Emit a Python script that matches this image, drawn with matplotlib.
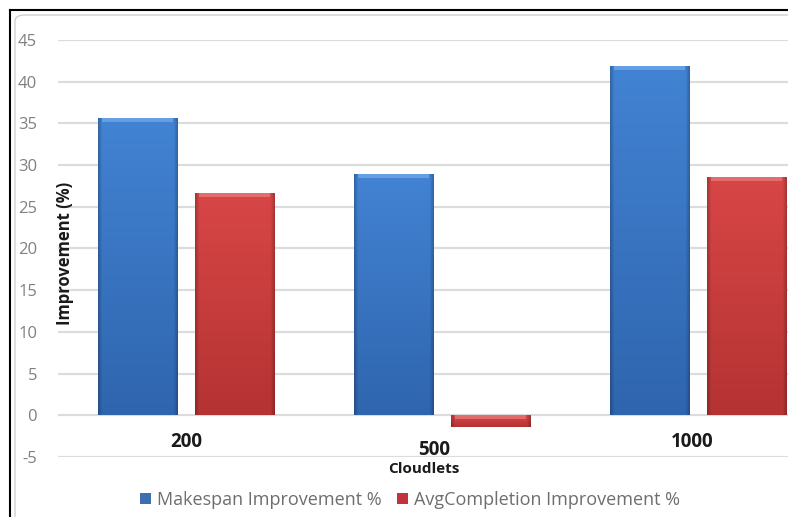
import numpy as np
import matplotlib
matplotlib.use("Agg")
import matplotlib.pyplot as plt
from matplotlib.patches import Patch, FancyBboxPatch
from matplotlib.lines import Line2D
from matplotlib.colors import to_rgb

# Data
categories = ["200", "500", "1000"]
makespan_improvement = [35.6, 28.9, 41.9]
avgcompletion_improvement = [26.6, -1.4, 28.6]
series_names = ["Makespan Improvement %", "AvgCompletion Improvement %"]
y_ticks = [-5, 0, 5, 10, 15, 20, 25, 30, 35, 40, 45]

W, H = 788, 517
DPI = 100
fig = plt.figure(figsize=(W / DPI, H / DPI), dpi=DPI)
fig.patch.set_facecolor("white")

FONT = ["Open Sans", "DejaVu Sans"]


def px(x0, y0, x1, y1):
    """Figure-fraction rectangle from pixel edges (origin top-left)."""
    return [x0 / W, 1 - y1 / H, (x1 - x0) / W, (y1 - y0) / H]


ax = fig.add_axes(px(58, 40, 826, 457))
ax.set_xlim(-0.5, 2.5)
ax.set_ylim(-5, 45)
for s in ax.spines.values():
    s.set_visible(False)
ax.set_yticks(y_ticks)
ax.set_yticklabels([str(t) for t in y_ticks], fontfamily=FONT, fontsize=12,
                   color="#808080")
ax.tick_params(axis="y", length=0, pad=15)
ax.tick_params(axis="x", length=0, labelbottom=False)
ax.grid(axis="y", color="#dcdcdc", linewidth=1.6)
ax.set_axisbelow(True)

bar_w = 0.31
offset = 0.19
x = np.arange(len(categories))


def shaded_bars(xpos, values, top, bottom, cap_color):
    bars = ax.bar(xpos, values, width=bar_w, color="none", edgecolor="none",
                  zorder=3)
    top, bottom = np.array(to_rgb(top)), np.array(to_rgb(bottom))
    nx, ny = 80, 120
    u = np.linspace(0, 1, nx)
    edge = np.minimum(u, 1 - u)
    col_f = 0.78 + 0.22 * np.clip(edge / 0.05, 0, 1)
    v = np.linspace(0, 1, ny)[:, None, None]
    img = (top * (1 - v) + bottom * v) * col_f[None, :, None]
    for b in bars:
        x0, y0 = b.get_x(), b.get_y()
        w, h = b.get_width(), b.get_height()
        y_lo, y_hi = min(y0, y0 + h), max(y0, y0 + h)
        im = ax.imshow(img, aspect="auto", extent=[x0, x0 + w, y_lo, y_hi],
                       zorder=3, interpolation="bilinear", origin="upper")
        im.set_clip_path(b)
        # bevelled top edge
        cap = 0.45
        ax.fill_between([x0 + 0.015, x0 + w - 0.015], y_hi - cap, y_hi,
                        color=cap_color, zorder=4, linewidth=0, alpha=0.8)
    return bars


shaded_bars(x - offset, makespan_improvement, "#4283d3", "#2f65ae", "#6fa6e6")
shaded_bars(x + offset, avgcompletion_improvement, "#d84646", "#b53333",
            "#e77676")
ax.set_xlim(-0.5, 2.5)
ax.set_ylim(-5, 45)

# Category labels sit just below the zero line
label_drop = [19, 25, 19]
label_shift = [0, -6, -4]
for i, cat in enumerate(categories):
    ax.annotate(cat, xy=(x[i], 0), xytext=(label_shift[i], -label_drop[i]),
                textcoords="offset points", ha="center", va="center",
                fontfamily=FONT, fontweight="bold", fontsize=13.5,
                color="#1a1a1a")

fig.text(424 / W, 1 - 469 / H, "Cloudlets", ha="center", va="center",
         fontfamily=FONT, fontweight="bold", fontsize=11, color="#1a1a1a")
fig.text(65 / W, 1 - 253 / H, "Improvement (%)", ha="center", va="center",
         rotation=90, fontfamily=FONT, fontweight="bold", fontsize=12,
         color="#1a1a1a")

handles = [Patch(facecolor="#3d6fae", edgecolor="none"),
           Patch(facecolor="#c0343a", edgecolor="none")]
fig.legend(handles, series_names, loc="center", bbox_to_anchor=(410 / W, 1 - 500 / H),
           ncol=2, frameon=False, handlelength=0.6, handleheight=0.6,
           handletextpad=0.3, columnspacing=0.9,
           prop={"family": FONT, "size": 13}, labelcolor="#6e6e6e")

# Chart frame
frame = FancyBboxPatch((15 / W, -0.1), 1.2, 1 - 15 / H + 0.1,
                       boxstyle="round,pad=0,rounding_size=0.012",
                       transform=fig.transFigure, facecolor="none",
                       edgecolor="#d0d0d0", linewidth=1.0)
fig.patches.append(frame)
fig.add_artist(Line2D([10 / W, 10 / W], [0, 1 - 10 / H], color="black",
                      linewidth=1.5, transform=fig.transFigure))
fig.add_artist(Line2D([10 / W, 1], [1 - 10 / H, 1 - 10 / H], color="black",
                      linewidth=1.5, transform=fig.transFigure))

fig.savefig("out.png", dpi=DPI, facecolor="white")
